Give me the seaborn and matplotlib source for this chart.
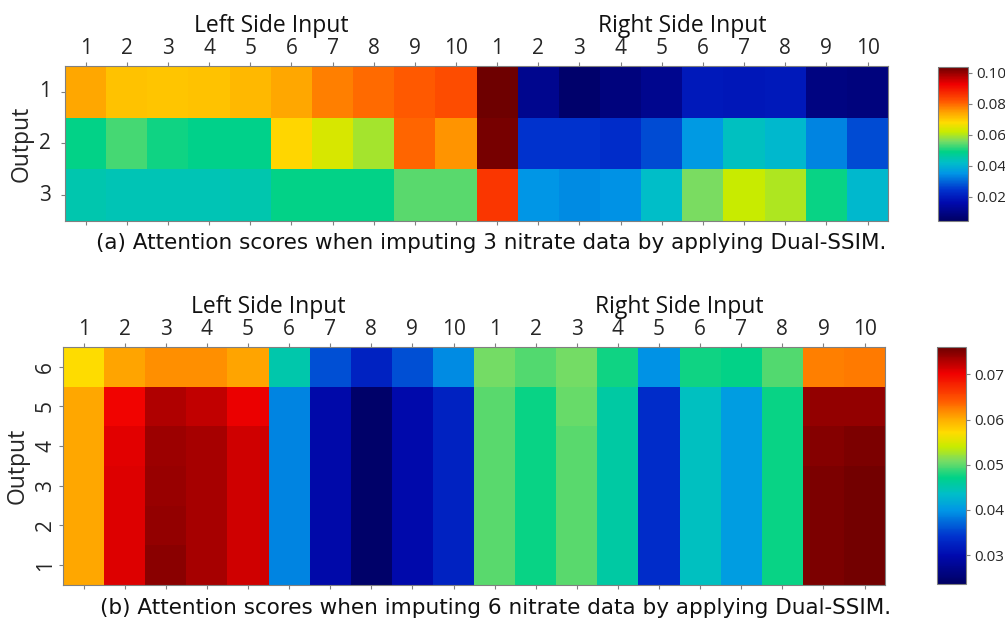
import numpy as np
import pandas as pd
import matplotlib
matplotlib.use("Agg")
import matplotlib.pyplot as plt
import seaborn as sns
from matplotlib.colors import LinearSegmentedColormap
from matplotlib.transforms import blended_transform_factory

# ---------------- data ----------------
col_labels = [str(i) for i in range(1, 11)] * 2  # left side 1..10, right side 1..10

# (a) 3 outputs
a_out1 = [0.0738, 0.0708, 0.0703, 0.0708, 0.0718, 0.0738, 0.0778, 0.0797, 0.0812, 0.0827,
          0.1035, 0.0114, 0.0060, 0.0085, 0.0114, 0.0194, 0.0189, 0.0194, 0.0095, 0.0085]
a_out2 = [0.0491, 0.0530, 0.0500, 0.0486, 0.0486, 0.0684, 0.0634, 0.0594, 0.0802, 0.0758,
          0.1025, 0.0243, 0.0243, 0.0233, 0.0273, 0.0362, 0.0431, 0.0411, 0.0332, 0.0273]
a_out3 = [0.0451, 0.0441, 0.0441, 0.0441, 0.0451, 0.0491, 0.0491, 0.0491, 0.0540, 0.0540,
          0.0857, 0.0352, 0.0342, 0.0347, 0.0421, 0.0560, 0.0619, 0.0599, 0.0495, 0.0411]
a_rows = ["1", "2", "3"]

# (b) 6 outputs
b_out6 = [0.0571, 0.0605, 0.0616, 0.0616, 0.0605, 0.0451, 0.0357, 0.0325, 0.0357, 0.0393,
          0.0508, 0.0498, 0.0508, 0.0477, 0.0396, 0.0477, 0.0472, 0.0498, 0.0624, 0.0626]
b_out5 = [0.0603, 0.0700, 0.0731, 0.0722, 0.0704, 0.0388, 0.0294, 0.0241, 0.0296, 0.0325,
          0.0500, 0.0474, 0.0503, 0.0456, 0.0336, 0.0440, 0.0404, 0.0474, 0.0742, 0.0742]
b_out4 = [0.0603, 0.0708, 0.0738, 0.0734, 0.0715, 0.0388, 0.0294, 0.0241, 0.0296, 0.0325,
          0.0500, 0.0474, 0.0500, 0.0456, 0.0336, 0.0440, 0.0404, 0.0474, 0.0749, 0.0752]
b_out3 = [0.0603, 0.0710, 0.0740, 0.0734, 0.0715, 0.0388, 0.0294, 0.0241, 0.0296, 0.0325,
          0.0500, 0.0474, 0.0500, 0.0456, 0.0336, 0.0440, 0.0404, 0.0474, 0.0753, 0.0756]
b_out2 = [0.0603, 0.0710, 0.0742, 0.0735, 0.0715, 0.0388, 0.0294, 0.0241, 0.0296, 0.0325,
          0.0500, 0.0474, 0.0500, 0.0456, 0.0336, 0.0440, 0.0404, 0.0474, 0.0753, 0.0756]
b_out1 = [0.0603, 0.0710, 0.0747, 0.0734, 0.0715, 0.0388, 0.0294, 0.0241, 0.0296, 0.0325,
          0.0500, 0.0474, 0.0500, 0.0456, 0.0336, 0.0440, 0.0404, 0.0474, 0.0753, 0.0756]
b_rows = ["6", "5", "4", "3", "2", "1"]

cbar_a_ticks = [0.02, 0.04, 0.06, 0.08, 0.10]
cbar_b_ticks = [0.03, 0.04, 0.05, 0.06, 0.07]

caption_a = "(a) Attention scores when imputing 3 nitrate data by applying Dual-SSIM."
caption_b = "(b) Attention scores when imputing 6 nitrate data by applying Dual-SSIM."

# ---------------- style ----------------
sns.set_style("white")
plt.rcParams["font.family"] = ["Open Sans", "DejaVu Sans"]

stops = [
    (0.00, (0, 0, 100)),
    (0.12, (0, 10, 175)),
    (0.20, (0, 50, 205)),
    (0.31, (0, 150, 230)),
    (0.38, (0, 190, 200)),
    (0.45, (0, 210, 135)),
    (0.52, (120, 220, 100)),
    (0.58, (200, 235, 0)),
    (0.64, (255, 220, 0)),
    (0.71, (255, 160, 0)),
    (0.78, (255, 85, 0)),
    (0.89, (240, 0, 0)),
    (1.00, (110, 0, 0)),
]
cmap = LinearSegmentedColormap.from_list(
    "custom_jet", [(p, tuple(c / 255 for c in rgb)) for p, rgb in stops])

df_a = pd.DataFrame([a_out1, a_out2, a_out3], index=a_rows)
df_b = pd.DataFrame([b_out6, b_out5, b_out4, b_out3, b_out2, b_out1], index=b_rows)

fig = plt.figure(figsize=(10.05, 6.28), dpi=100)
ax_a = fig.add_axes([0.0647, 0.648, 0.819, 0.247])
cax_a = fig.add_axes([0.9333, 0.648, 0.0299, 0.245])
ax_b = fig.add_axes([0.0627, 0.0685, 0.818, 0.379])
cax_b = fig.add_axes([0.932, 0.070, 0.029, 0.377])

edge = "#808080"


def draw(ax, cax, df, vmin, vmax, ticks, rot_y, ypad):
    sns.heatmap(df, ax=ax, cbar_ax=cax, cmap=cmap, vmin=vmin, vmax=vmax,
                xticklabels=col_labels, yticklabels=True,
                cbar_kws={"ticks": ticks, "format": "%.2f"})
    ax.tick_params(axis="x", top=True, bottom=True, labeltop=True, labelbottom=False,
                   length=3, width=0.8, color=edge, labelsize=15, pad=2, rotation=0)
    ax.tick_params(axis="y", left=True, length=3, width=0.8, color=edge,
                   labelsize=15, pad=ypad)
    for t in ax.get_yticklabels():
        t.set_rotation(rot_y)
        t.set_va("center")
    ax.set_xlabel("")
    ax.set_ylabel("Output", fontsize=16.5, labelpad=4)
    for s in ax.spines.values():
        s.set_visible(True)
        s.set_color(edge)
        s.set_linewidth(0.8)
    trans = blended_transform_factory(ax.transData, ax.transAxes)
    yoff = 1.0 + 28 / ax.bbox.height
    ax.text(5, yoff, "Left Side Input", transform=trans, ha="center", va="bottom",
            fontsize=16.5, color="#111111")
    ax.text(15, yoff, "Right Side Input", transform=trans,
            ha="center", va="bottom", fontsize=16.5, color="#111111")
    cb = ax.collections[0].colorbar
    cb.outline.set_edgecolor(edge)
    cb.outline.set_linewidth(0.8)
    cax.tick_params(labelsize=11, length=3, color=edge, width=0.8, pad=3)


draw(ax_a, cax_a, df_a, 0.0045, 0.1035, cbar_a_ticks, 0, 7)
draw(ax_b, cax_b, df_b, 0.0236, 0.0760, cbar_b_ticks, 90, 2)

fig.text(0.489, 0.613, caption_a, ha="center", va="center", fontsize=15.5,
         family="DejaVu Sans", color="#111111")
fig.text(0.493, 0.032, caption_b, ha="center", va="center", fontsize=15.5,
         family="DejaVu Sans", color="#111111")

fig.savefig("out.png", dpi=100)
